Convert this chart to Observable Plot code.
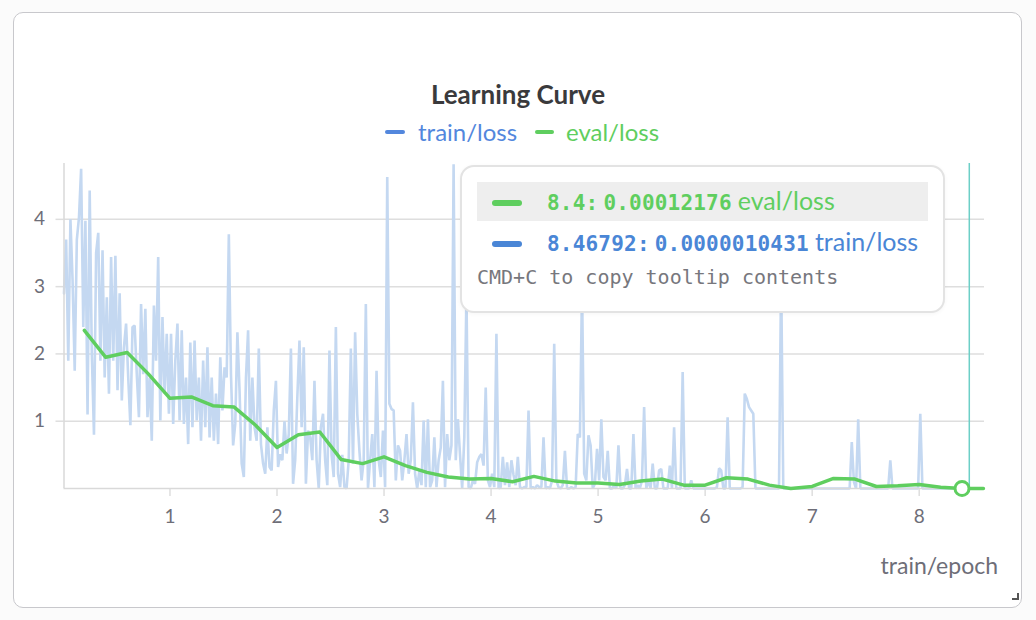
<!DOCTYPE html>
<html>
<head>
<meta charset="utf-8">
<script src="https://cdn.jsdelivr.net/npm/d3@7"></script>
<script src="https://cdn.jsdelivr.net/npm/@observablehq/plot@0.6"></script>
<style>
  html, body { margin: 0; padding: 0; background: #fbfbfb; }
  body { width: 1036px; height: 620px; position: relative; overflow: hidden; font-family: Lato, "Noto Sans", sans-serif; }
  #panel { position: absolute; left: 13px; top: 12px; width: 1007px; height: 594px; border: 1.5px solid #c8c8cc; border-radius: 10px; background: #fff; }
  #title { position: absolute; left: 0; width: 1036px; top: 78px; text-align: center; font-size: 26px; font-weight: 700; color: #3a3a3c; }
  .leg { position: absolute; top: 117px; font-size: 24px; }
  .mk { position: absolute; height: 4px; border-radius: 2px; }
  #chart { position: absolute; left: 0; top: 140px; }
  #xlabel { position: absolute; right: 38px; top: 551px; font-size: 23px; color: #6e6e78; }
  #tip { position: absolute; left: 460px; top: 165px; width: 481px; height: 144px; border: 2px solid #e3e3e3; border-radius: 14px; background: #fff; box-shadow: 0 1px 4px rgba(0,0,0,0.04); }
  #hl { position: absolute; left: 15px; top: 15px; width: 451px; height: 39px; background: #eeeeee; }
  .row { position: absolute; left: 85px; white-space: nowrap; }
  .num { font-family: "DejaVu Sans Mono", monospace; font-size: 21px; font-weight: 700; letter-spacing: 0.2px; }
  .gap { display: inline-block; width: 5px; }
  .nm { font-family: Lato, sans-serif; font-size: 25px; margin-left: 6px; }
  .tmk { position: absolute; left: 30px; width: 30px; height: 6px; border-radius: 3px; }
  #copy { position: absolute; left: 15px; top: 98px; font-family: "DejaVu Sans Mono", monospace; font-size: 20px; color: #77777d; white-space: nowrap; }
  #grip { position: absolute; left: 1012px; top: 593px; width: 5px; height: 5px; border-right: 2px solid #555; border-bottom: 2px solid #555; }
</style>
</head>
<body>
<div id="panel"></div>
<div id="title">Learning Curve</div>
<div class="mk" style="left:385px;top:130px;width:20px;background:#5387dd"></div>
<div class="leg" style="left:418px;color:#5387dd">train/loss</div>
<div class="mk" style="left:535px;top:130px;width:19px;background:#5fce5f"></div>
<div class="leg" style="left:566px;color:#5fce5f">eval/loss</div>
<div id="chart"></div>
<div id="xlabel">train/epoch</div>
<div id="tip">
  <div id="hl"></div>
  <div class="tmk" style="top:33px;background:#5fce5f"></div>
  <div class="row" style="top:18px;color:#5fce5f"><span class="num" id="evalX"></span><span class="gap"></span><span class="num" id="evalY"></span><span class="nm">eval/loss</span></div>
  <div class="tmk" style="top:74px;background:#4a86d6"></div>
  <div class="row" style="top:59px;color:#4a86d6"><span class="num" id="trainX"></span><span class="gap"></span><span class="num" id="trainY"></span><span class="nm">train/loss</span></div>
  <div id="copy">CMD+C to copy tooltip contents</div>
</div>
<div id="grip"></div>
<script>
// ---- data ----
const trainStart = 0.01;   // epoch of first logged train/loss
const trainStep = 0.02;    // epochs between logged train/loss values
const trainLoss = [
  2.9, 3.7, 1.9, 4.0, 3.1, 1.75, 3.7, 4.03, 4.75, 2.4,
  3.98, 1.1, 4.43, 2.0, 0.8, 3.5, 3.8, 1.9, 3.54, 1.65,
  2.84, 1.41, 3.44, 1.9, 3.46, 1.46, 2.9, 1.31, 2.1, 2.45,
  1.65, 0.94, 2.4, 2.42, 1.7, 1.06, 2.74, 1.7, 2.67, 1.06,
  1.65, 0.71, 2.72, 1.9, 3.44, 1.01, 2.55, 1.41, 2.3, 1.11,
  2.3, 0.96, 1.9, 2.45, 1.01, 2.35, 0.96, 1.65, 0.66, 2.17,
  0.91, 2.2, 1.01, 1.65, 0.71, 1.9, 0.91, 2.1, 0.76, 1.65,
  0.71, 1.41, 0.66, 1.95, 1.16, 1.8, 1.65, 3.78, 1.7, 0.64,
  0.96, 2.32, 1.46, 0.37, 0.17, 1.65, 2.35, 0.71, 1.65, 0.91,
  0.71, 2.08, 0.66, 0.37, 0.22, 0.91, 0.32, 0.27, 1.16, 1.6,
  0.32, 0.51, 0.42, 1.0, 0.52, 0.81, 2.08, 0.07, 0.42, 1.36,
  2.2, 0.91, 2.1, 0.07, 0.86, 0.76, 0.42, 1.6, 0.42, 0.0,
  0.91, 1.11, 0.42, 0.05, 2.05, 0.5, 0.17, 2.4, 0.22, 0.02,
  0.5, 0.02, 0.0, 0.42, 2.08, 0.37, 2.32, 1.11, 0.56, 0.12,
  0.42, 2.74, 0.0, 0.42, 0.81, 0.02, 1.75, 0.42, 0.17, 0.86,
  0.02, 4.63, 1.26, 1.18, 1.16, 0.12, 0.64, 0.56, 0.12, 0.42,
  0.81, 0.22, 0.42, 1.28, 0.22, 0.0, 0.27, 0.05, 1.01, 0.02,
  1.03, 0.02, 0.12, 0.76, 0.02, 0.42, 0.61, 1.6, 0.02, 0.81,
  0.42, 0.64, 4.82, 0.42, 1.03, 0.5, 0.0, 0.76, 2.9, 0.02,
  0.0, 0.12, 0.07, 0.39, 0.47, 0.51, 0.34, 1.5, 0.12, 0.02,
  0.22, 0.02, 2.3, 0.0, 0.02, 0.47, 0.05, 0.39, 0.02, 0.42,
  0.2, 0.05, 0.47, 0.02, 0.0, 0.02, 0.02, 1.16, 0.0, 0.02,
  0.0, 0.05, 0.02, 0.02, 0.76, 0.0, 0.02, 0.0, 0.12, 2.15,
  0.12, 0.02, 0.0, 0.05, 0.56, 0.0, 0.0, 0.02, 0.0, 0.02,
  0.81, 0.76, 3.0, 0.22, 0.12, 0.79, 0.64, 0.0, 0.07, 0.59,
  0.12, 1.03, 0.17, 0.12, 0.56, 0.0, 0.0, 0.05, 0.0, 0.64,
  0.0, 0.0, 0.05, 0.29, 0.0, 0.0, 0.81, 0.0, 0.05, 0.0,
  0.12, 1.21, 0.0, 0.12, 0.0, 0.37, 0.0, 0.0, 0.27, 0.29,
  0.0, 0.0, 0.0, 0.34, 0.0, 0.91, 0.0, 0.0, 0.0, 1.73,
  0.0, 0.0, 0.0, 0.12, 0.0, 0.0, 0.0, 0.0, 0.0, 0.0,
  0.0, 0.0, 0.0, 0.0, 0.0, 0.02, 0.3, 0.27, 0.0, 0.0,
  1.06, 0.0, 0.0, 0.0, 0.0, 0.0, 0.0, 0.02, 1.41, 1.33,
  1.21, 1.16, 1.11, 0.0, 0.0, 0.0, 0.0, 0.0, 0.0, 0.0,
  0.0, 0.0, 0.0, 0.0, 0.0, 3.2, 0.0, 0.0, 0.0, 0.0,
  0.0, 0.0, 0.0, 0.0, 0.0, 0.0, 0.0, 0.0, 0.0, 0.0,
  0.0, 0.0, 0.0, 0.0, 0.0, 0.0, 0.0, 0.0, 0.0, 0.0,
  0.0, 0.0, 0.0, 0.0, 0.0, 0.0, 0.0, 0.0, 0.69, 0.1,
  0.0, 1.03, 0.0, 0.0, 0.0, 0.0, 0.0, 0.0, 0.0, 0.0,
  0.0, 0.0, 0.0, 0.0, 0.0, 0.0, 0.42, 0.0, 0.0, 0.0,
  0.0, 0.0, 0.0, 0.0, 0.0, 0.0, 0.0, 0.0, 0.0, 0.0,
  1.11, 0.0, 0.0, 0.0, 0.0, 0.0, 0.0, 0.0, 0.0, 0.0,
  0.0, 0.0, 0.0, 0.0, 0.0, 0.0, 0.0, 0.0, 0.0, 0.0,
  0.0, 0.0, 0.0, 0.0000010431
];
const evalEpoch = [0.2, 0.4, 0.6, 0.8, 1.0, 1.2, 1.4, 1.6, 1.8, 2.0,
  2.2, 2.4, 2.6, 2.8, 3.0, 3.2, 3.4, 3.6, 3.8, 4.0,
  4.2, 4.4, 4.6, 4.8, 5.0, 5.2, 5.4, 5.6, 5.8, 6.0,
  6.2, 6.4, 6.6, 6.8, 7.0, 7.2, 7.4, 7.6, 7.8, 8.0,
  8.2, 8.4, 8.6];
const evalLoss = [2.35, 1.95, 2.02, 1.70, 1.34, 1.36, 1.23, 1.21, 0.94, 0.61,
  0.80, 0.84, 0.43, 0.37, 0.47, 0.34, 0.24, 0.17, 0.14, 0.15,
  0.10, 0.18, 0.11, 0.08, 0.08, 0.06, 0.11, 0.14, 0.05, 0.05,
  0.16, 0.14, 0.05, 0.0, 0.03, 0.15, 0.14, 0.03, 0.04, 0.06,
  0.02, 0.00012176, 0.0];
const xTicks = [1, 2, 3, 4, 5, 6, 7, 8];
const yTicks = [1, 2, 3, 4];
const hoverEval = {epoch: 8.4, loss: 0.00012176};
const hoverTrain = {epoch: 8.46792, loss: 0.0000010431};

// ---- tables ----
const train = trainLoss.map((v, i) => ({epoch: trainStart + i * trainStep, loss: v}));
train[train.length - 1].epoch = hoverTrain.epoch;
const evals = evalEpoch.map((e, i) => ({epoch: e, loss: evalLoss[i]}));

const green = "#5fce5f";
const chart = Plot.plot({
  width: 1036,
  height: 400,
  marginLeft: 63.5,
  marginRight: 52,
  marginTop: 23,
  marginBottom: 52,
  style: {color: "#6e6e78", fontFamily: "Lato, sans-serif", background: "transparent", overflow: "visible"},
  x: {domain: [0.01, 8.61], label: null},
  y: {domain: [0, 4.83], label: null},
  marks: [
    Plot.gridY(yTicks, {stroke: "#dedede", strokeOpacity: 1, strokeWidth: 1.5}),
    Plot.axisY(yTicks, {tickSize: 8, tickPadding: 11, stroke: "#dedede", strokeOpacity: 1, strokeWidth: 1.5, fontSize: 19, tickFormat: d => String(d), label: null}),
    Plot.axisX(xTicks, {tickSize: 8, tickPadding: 13, stroke: "#dedede", strokeOpacity: 1, strokeWidth: 1.5, fontSize: 19, tickFormat: d => String(d), label: null}),
    Plot.line(train, {x: "epoch", y: "loss", stroke: "#c4d8f1", strokeWidth: 2.6, strokeLinejoin: "miter", curve: "linear"}),
    Plot.ruleX([0.01], {stroke: "#d9d9d9", strokeWidth: 1.5}),
    Plot.ruleY([0], {stroke: "#d9d9d9", strokeWidth: 1.5}),
    Plot.ruleX([hoverTrain.epoch], {stroke: "#6dcfc7", strokeWidth: 1.5}),
    Plot.line(evals, {x: "epoch", y: "loss", stroke: green, strokeWidth: 3.5, strokeLinejoin: "round"}),
    Plot.dot([hoverEval], {x: "epoch", y: "loss", r: 7, fill: "#fff", stroke: green, strokeWidth: 3})
  ]
});
document.getElementById("chart").appendChild(chart);
document.getElementById("evalX").textContent = hoverEval.epoch + ":";
document.getElementById("evalY").textContent = hoverEval.loss.toFixed(8);
document.getElementById("trainX").textContent = hoverTrain.epoch + ":";
document.getElementById("trainY").textContent = hoverTrain.loss.toFixed(10);
</script>
</body>
</html>
